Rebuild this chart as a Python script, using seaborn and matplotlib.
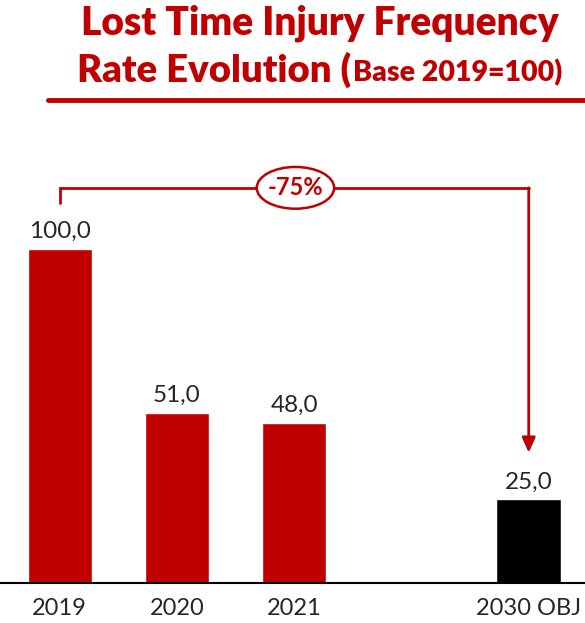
import matplotlib
matplotlib.use('Agg')
import matplotlib.pyplot as plt
import seaborn as sns
import pandas as pd
from matplotlib.patches import Ellipse

categorias = ['2019', '2020', '2021', '', '2030 OBJ']
anios = ['2019', '2020', '2021', '2030 OBJ']
valores = [100.0, 51.0, 48.0, 25.0]
colores = {'2019': '#C00000', '2020': '#C00000', '2021': '#C00000', '2030 OBJ': '#000000'}
reduccion = '-75%'

ROJO = '#C00000'

sns.set_style('white')
plt.rcParams['font.family'] = ['Lato', 'DejaVu Sans']

df = pd.DataFrame({'anio': anios, 'valor': valores})

fig = plt.figure(figsize=(5.85, 6.23), dpi=100)
ax = fig.add_axes([0, (623 - 583) / 623, 1, (583 - 110) / 623])

sns.barplot(data=df, x='anio', y='valor', order=categorias, hue='anio',
            palette=colores, width=0.55, legend=False, ax=ax, saturation=1)

ax.set_xlim(-0.51, 4.48)
ax.set_ylim(0, 141.6)
for s in ['top', 'right', 'left']:
    ax.spines[s].set_visible(False)
ax.spines['bottom'].set_color('black')
ax.spines['bottom'].set_linewidth(1.5)
ax.set_yticks([])
ax.set_xlabel('')
ax.set_ylabel('')
ax.tick_params(axis='x', length=0, labelsize=17, pad=11)

# etiquetas de valores
pos = [categorias.index(a) for a in anios]
for x, v in zip(pos, valores):
    ax.annotate(f'{v:.1f}'.replace('.', ','), (x, v), xytext=(0, 5),
                textcoords='offset points', ha='center', va='bottom', fontsize=17.5)

# corchete con flecha
y_top = max(valores) * 1.183
x0, x1 = pos[0], pos[-1]
ax.plot([x0, x0, x1], [valores[0] + 13.8, y_top, y_top], color=ROJO, lw=2, solid_joinstyle='miter')
ax.annotate('', xy=(x1, valores[-1] + 14), xytext=(x1, y_top),
            arrowprops=dict(arrowstyle='-|>,head_length=0.9,head_width=0.4', color=ROJO, lw=2,
                            shrinkA=0, shrinkB=0))
xm = (x0 + x1) / 2 + 0.01
ax.add_patch(Ellipse((xm, y_top), 0.66, 12.5, facecolor='white', edgecolor=ROJO, lw=1.8, zorder=5))
ax.text(xm, y_top, reduccion, ha='center', va='center', color=ROJO, fontsize=17,
        fontweight='bold', zorder=6)

# titulo
fig.text(320 / 585, 1 - 23 / 623, 'Lost Time Injury Frequency', ha='center', va='center',
         color=ROJO, fontsize=28, fontweight='heavy')
fig.text(351 / 585, 1 - 70 / 623, 'Rate Evolution (', ha='right', va='center',
         color=ROJO, fontsize=27.5, fontweight='heavy')
fig.text(353 / 585, 1 - 73 / 623, 'Base 2019=100)', ha='left', va='center',
         color=ROJO, fontsize=20.5, fontweight='heavy')
fig.add_artist(plt.Line2D([48 / 585, 1], [1 - 100 / 623] * 2, color=ROJO, lw=3.5))

fig.savefig('out.png', dpi=100)
